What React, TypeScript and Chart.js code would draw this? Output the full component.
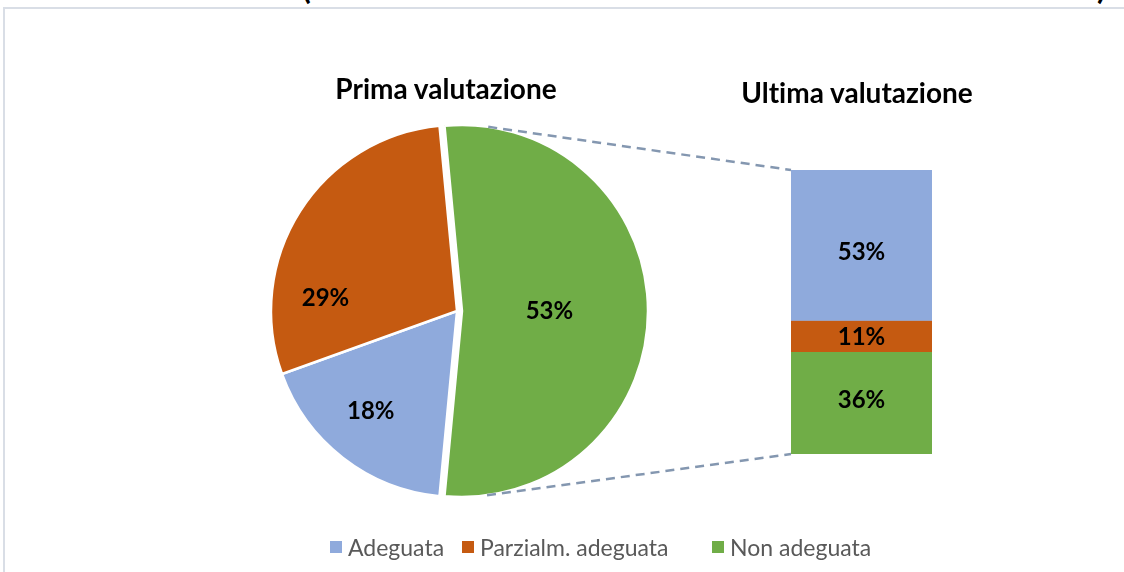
import React, { useEffect, useRef } from "react";
import { Chart, registerables } from "chart.js";

Chart.register(...registerables);

// ---- data ----
const categories = ["Adeguata", "Parzialm. adeguata", "Non adeguata"];
const colors = ["#8FAADC", "#C55A11", "#70AD47"];
const primaValues = [18, 29, 53]; // Prima valutazione (pie)
const ultimaValues = [53, 11, 36]; // Ultima valutazione (bar)
const pieOrder = [2, 0, 1]; // clockwise drawing order in the pie
const titles = ["Prima valutazione", "Ultima valutazione"];

// ---- layout ----
const W = 1124;
const H = 572;
const FONT = "Lato, 'Open Sans', sans-serif";
const legendLeft = [330, 462, 712];

export default function App() {
  const pieRef = useRef<HTMLCanvasElement | null>(null);
  const barRef = useRef<HTMLCanvasElement | null>(null);

  useEffect(() => {
    if (!pieRef.current || !barRef.current) return;

    const explode = {
      id: "explode",
      afterDatasetsUpdate(chart: any) {
        const arc: any = chart.getDatasetMeta(0).data[0];
        if (!arc) return;
        const mid = (arc.startAngle + arc.endAngle) / 2;
        arc.x += Math.cos(mid) * 5;
        arc.y += Math.sin(mid) * 5;
      },
    };

    const labelFrac = [0.47, 0.71, 0.71];
    const labelShift = [0, 3, -27];
    const pieLabels = {
      id: "pieLabels",
      afterDatasetsDraw(chart: any) {
        const ctx = chart.ctx;
        const meta = chart.getDatasetMeta(0);
        const data = chart.data.datasets[0].data as number[];
        ctx.save();
        ctx.font = `bold 24px ${FONT}`;
        ctx.fillStyle = "#000";
        ctx.textAlign = "center";
        ctx.textBaseline = "middle";
        meta.data.forEach((arc: any, i: number) => {
          const mid = (arc.startAngle + arc.endAngle) / 2 + (labelShift[i] * Math.PI) / 180;
          const r = arc.outerRadius * labelFrac[i];
          ctx.fillText(data[i] + "%", arc.x + Math.cos(mid) * r, arc.y + Math.sin(mid) * r);
        });
        ctx.restore();
      },
    };

    const pie = new Chart(pieRef.current, {
      type: "pie",
      data: {
        labels: pieOrder.map((i) => categories[i]),
        datasets: [
          {
            data: pieOrder.map((i) => primaValues[i]),
            backgroundColor: pieOrder.map((i) => colors[i]),
            borderColor: "#ffffff",
            borderWidth: 2.5,
          },
        ],
      },
      options: {
        animation: false,
        responsive: false,
        rotation: -5.4,
        radius: 186,
        layout: { padding: { left: 257, right: W - 657, top: 111, bottom: H - 511 } },
        plugins: { legend: { display: false }, tooltip: { enabled: false } },
      },
      plugins: [explode, pieLabels],
    });

    const barLabelShift = [7, 1, -3];
    const barLabels = {
      id: "barLabels",
      afterDatasetsDraw(chart: any) {
        const ctx = chart.ctx;
        ctx.save();
        ctx.font = `bold 24px ${FONT}`;
        ctx.fillStyle = "#000";
        ctx.textAlign = "center";
        ctx.textBaseline = "middle";
        chart.data.datasets.forEach((ds: any, i: number) => {
          const bar: any = chart.getDatasetMeta(i).data[0];
          ctx.fillText(ds.data[0] + "%", bar.x, (bar.y + bar.base) / 2 + barLabelShift[i]);
        });
        ctx.restore();
      },
    };

    const connectors = {
      id: "connectors",
      beforeDatasetsDraw(chart: any) {
        const arc: any = pie.getDatasetMeta(0).data[0];
        if (!arc) return;
        const bar: any = chart.getDatasetMeta(0).data[0];
        const yScale = chart.scales.y;
        const left = bar.x - bar.width / 2;
        const corners = [
          { x: left, y: yScale.getPixelForValue(0), sign: -1 },
          { x: left, y: yScale.getPixelForValue(100), sign: 1 },
        ];
        const ctx = chart.ctx;
        ctx.save();
        ctx.strokeStyle = "#8497B0";
        ctx.lineWidth = 2.5;
        ctx.setLineDash([9, 6]);
        corners.forEach((c) => {
          const dx = c.x - arc.x;
          const dy = c.y - arc.y;
          const d = Math.hypot(dx, dy);
          const r = arc.outerRadius;
          const th = Math.atan2(dy, dx) + c.sign * Math.acos(r / d);
          ctx.beginPath();
          ctx.moveTo(arc.x + Math.cos(th) * r, arc.y + Math.sin(th) * r);
          ctx.lineTo(c.x, c.y);
          ctx.stroke();
        });
        ctx.restore();
      },
    };

    const bar = new Chart(barRef.current, {
      type: "bar",
      data: {
        labels: [titles[1]],
        datasets: categories.map((c, i) => ({
          label: c,
          data: [ultimaValues[i]],
          backgroundColor: colors[i],
          borderWidth: 0,
          barPercentage: 1,
          categoryPercentage: 1,
        })),
      },
      options: {
        animation: false,
        responsive: false,
        layout: { padding: { left: 791, right: W - 932, top: 170, bottom: H - 454 } },
        scales: {
          x: { display: false, stacked: true },
          y: { display: false, stacked: true, reverse: true, min: 0, max: 100 },
        },
        plugins: { legend: { display: false }, tooltip: { enabled: false } },
      },
      plugins: [connectors, barLabels],
    });

    return () => {
      bar.destroy();
      pie.destroy();
    };
  }, []);

  const abs: React.CSSProperties = { position: "absolute", left: 0, top: 0 };
  const titleStyle: React.CSSProperties = {
    position: "absolute",
    width: 400,
    textAlign: "center",
    font: `bold 28px ${FONT}`,
    lineHeight: "32px",
    color: "#000",
    fontVariantLigatures: "none",
  };

  return (
    <div
      style={{
        position: "absolute",
        left: 0,
        top: 0,
        width: W,
        height: H,
        overflow: "hidden",
        background: "#fff",
        fontFamily: FONT,
        fontVariantLigatures: "none",
      }}
    >
      <div style={{ position: "absolute", left: 302, top: -33, font: `bold 32px ${FONT}`, color: "#000" }}>(</div>
      <div style={{ position: "absolute", left: 1097, top: -33, font: `bold 32px ${FONT}`, color: "#000" }}>)</div>
      <div
        style={{
          position: "absolute",
          left: 3,
          top: 7,
          width: W,
          height: H,
          borderTop: "2px solid #D9DEE6",
          borderLeft: "2px solid #D9DEE6",
        }}
      />
      <canvas ref={pieRef} width={W} height={H} style={abs} />
      <canvas ref={barRef} width={W} height={H} style={abs} />
      <div style={{ ...titleStyle, left: 246, top: 72 }}>{titles[0]}</div>
      <div style={{ ...titleStyle, left: 657, top: 76 }}>{titles[1]}</div>
      {categories.map((c, i) => (
        <div
          key={c}
          style={{
            position: "absolute",
            left: legendLeft[i],
            top: 534,
            display: "flex",
            alignItems: "center",
            font: `23px ${FONT}`,
            lineHeight: "26px",
            color: "#595959",
            whiteSpace: "nowrap",
          }}
        >
          <span style={{ display: "inline-block", width: 12, height: 12, background: colors[i], marginRight: 6 }} />
          {c}
        </div>
      ))}
    </div>
  );
}
